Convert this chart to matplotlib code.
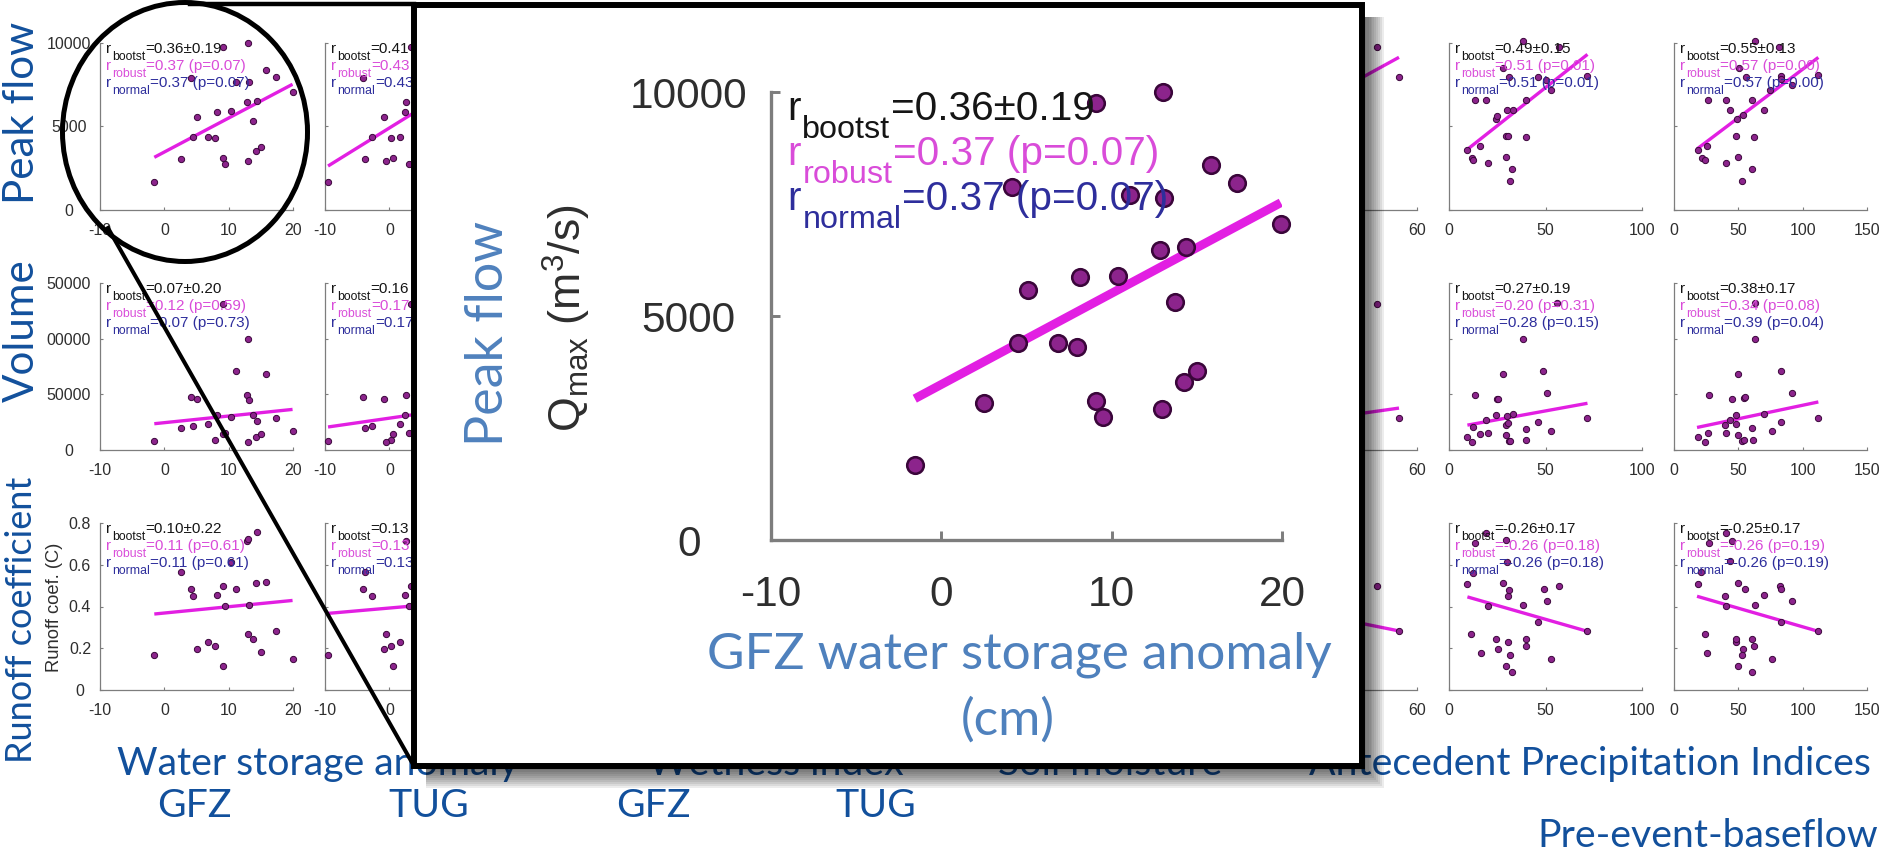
import numpy as np
import matplotlib
matplotlib.use("Agg")
import matplotlib.pyplot as plt
from matplotlib.patches import Ellipse, Rectangle
from matplotlib.lines import Line2D

plt.rcParams['font.family'] = ['Liberation Sans', 'DejaVu Sans']
plt.rcParams['mathtext.fontset'] = 'custom'
plt.rcParams['mathtext.rm'] = 'Liberation Sans'
plt.rcParams['mathtext.it'] = 'Liberation Sans:italic'
plt.rcParams['mathtext.bf'] = 'Liberation Sans:bold'

# ---------------- data (events) ----------------
nan = np.nan
gfz_x = [-1.56, 2.53, 4.14, 4.49, 5.09, 6.85, 7.94, 8.12, 9.06, 9.08, 9.47, 10.36,
         11.07, 12.85, 12.96, 13.03, 13.10, 13.74, 14.35, 14.24, 14.99, 15.84, 17.37, 19.93]
tug_x = [-9.53, -3.78, -4.04, -2.74, -0.82, 1.71, 0.21, 2.44, 3.32, 0.62, 3.06, nan,
         nan, 2.65, -0.51, nan, nan, nan, nan, nan, nan, nan, nan, nan]
col6_x = [nan, nan, nan, nan, nan, nan, nan, nan, 47.5, nan, nan, nan,
          nan, nan, nan, nan, nan, nan, nan, nan, nan, nan, 54.4, nan]
peak_flow = [1683, 3047, 7886, 4388, 5580, 4400, 4300, 5862, 9750, 3111, 2745, 5904,
             7690, 6478, 2927, 9996, 7636, 5319, 6532, 3534, 3772, 8373, 7962, 7053]
volume = [7769, 20020, 47510, 21514, 45418, 23008, 8665, 31076, 131175, 14044, 14940, 29283,
          70817, 49004, 6873, 99801, 45119, 31375, 26295, 11653, 14343, 68426, 28984, 17331]
runoff_coef = [0.170, 0.563, 0.482, 0.449, 0.197, 0.231, 0.213, 0.456, 0.498, 0.116, 0.402, 0.612,
               0.485, 0.716, 0.270, 0.724, 0.409, 0.246, 0.756, 0.512, 0.180, 0.517, 0.282, 0.148]

c7_peak_x = [9.53, 11.96, 12.31, 13.69, 16.29, 19.06, 20.28, 24.61, 24.96, 27.73, 29.46, 30.33, 29.46,
             29.98, 31.02, 31.54, 32.41, 32.93, 38.13, 39.86, 39.86, 46.27, 50.09, 52.69, 57.02, 71.75]
c7_peak = [3594, 3112, 3012, 6566, 3855, 6606, 2791, 5422, 5643, 8494, 4458, 4458, 3193,
           6004, 7992, 1727, 2450, 5964, 10141, 6606, 4398, 7992, 7771, 7169, 9739, 8032]
c7_vol_x = [9.53, 11.96, 12.48, 13.69, 16.29, 19.06, 20.28, 24.61, 24.96, 25.48, 27.73, 29.46, 29.46,
            29.98, 30.33, 30.85, 31.54, 32.93, 38.13, 39.86, 39.86, 46.27, 48.87, 50.61, 52.69, 56.15, 71.75]
c7_vol = [11905, 7440, 20238, 49107, 14286, 26786, 15476, 31250, 45536, 46131, 68452, 13690, 22619,
          30357, 24107, 8333, 8333, 32143, 100000, 19048, 8929, 24702, 70833, 50893, 17262, 131845, 29167]
c7_rc_x = [9.53, 12.31, 13.69, 16.46, 19.06, 20.28, 11.44, 24.61, 25.30, 27.73, 29.29, 29.46, 29.98, 30.33,
           30.33, 31.20, 31.54, 32.41, 38.13, 39.86, 39.86, 46.27, 49.22, 50.61, 52.69, 57.02, 71.75]
c7_rc = [0.510, 0.560, 0.706, 0.178, 0.754, 0.402, 0.267, 0.246, 0.197, 0.513, 0.717, 0.116, 0.614, 0.230,
         0.449, 0.481, 0.170, 0.087, 0.406, 0.246, 0.210, 0.325, 0.483, 0.425, 0.148, 0.497, 0.281]

c8_peak_x = [18.65, 22.02, 23.83, 26.42, 25.90, 40.15, 40.67, 43.26, 47.93, 49.74, 48.70, 50.26, 55.70,
             53.63, 53.11, 60.88, 60.88, 61.92, 62.95, 69.95, 74.87, 81.61, 82.90, 83.42, 91.97, 112.18]
c8_peak = [3594, 3112, 2992, 6566, 3835, 6606, 2791, 5984, 4458, 3153, 5422, 8474, 7972,
           5663, 1727, 6566, 2450, 4398, 10141, 5964, 7209, 9739, 8012, 7831, 7510, 8072]
c8_vol_x = [18.65, 23.83, 26.16, 26.94, 39.37, 40.67, 43.26, 45.08, 47.93, 48.45, 49.74, 49.74, 53.11,
            54.40, 54.15, 55.44, 60.88, 61.66, 62.95, 69.95, 75.91, 82.90, 82.90, 91.97, 112.18, 62.69]
c8_vol = [11905, 7440, 14881, 49107, 22321, 15179, 27083, 45536, 31548, 23214, 68452, 13690, 8036,
          8929, 47024, 47917, 19345, 8929, 100000, 32143, 17262, 70833, 24702, 50893, 29167, 131845]
c8_rc_x = [18.65, 21.24, 23.83, 25.90, 26.94, 39.37, 40.15, 40.67, 43.26, 45.08, 47.93, 48.45, 49.74, 49.74,
           53.63, 53.11, 55.44, 60.88, 61.92, 60.88, 62.95, 69.95, 75.91, 82.13, 82.90, 82.90, 91.97, 112.18]
c8_rc = [0.510, 0.563, 0.267, 0.178, 0.706, 0.449, 0.754, 0.402, 0.616, 0.716, 0.230, 0.246, 0.116, 0.513,
         0.198, 0.170, 0.483, 0.246, 0.211, 0.087, 0.406, 0.456, 0.148, 0.497, 0.484, 0.325, 0.425, 0.281]

# fitted (robust) regression lines: [x_start, x_end], [y_start, y_end]
gfz_fit_x = [-1.56, 19.93]
gfz_peak_fit = [3154, 7529]
gfz_vol_fit = [23606, 36454]
gfz_rc_fit = [0.364, 0.429]
tug_fit_x = [-9.53, 15.0]
tug_peak_fit = [2633, 8495]
tug_vol_fit = [20675, 41060]
tug_rc_fit = [0.367, 0.433]
col6_fit_x = [10.0, 54.4]
col6_peak_fit = [4455, 9143]
col6_vol_fit = [19450, 37657]
col6_rc_fit = [0.421, 0.283]
c7_fit_x = [9.53, 71.75]
c7_peak_fit = [3630, 9317]
c7_vol_fit = [22342, 41964]
c7_rc_fit = [0.446, 0.281]
c8_fit_x = [17.9, 112.18]
c8_peak_fit = [3655, 9137]
c8_vol_fit = [20238, 43155]
c8_rc_fit = [0.449, 0.281]

# correlation annotations (bootstrap, robust, normal)
gfz_peak_stats = ["0.36±0.19", "0.37 (p=0.07)", "0.37 (p=0.07)"]
gfz_vol_stats = ["0.07±0.20", "0.12 (p=0.59)", "0.07 (p=0.73)"]
gfz_rc_stats = ["0.10±0.22", "0.11 (p=0.61)", "0.11 (p=0.61)"]
tug_peak_stats = ["0.41", "0.43", "0.43"]
tug_vol_stats = ["0.16", "0.17", "0.17"]
tug_rc_stats = ["0.13", "0.13", "0.13"]
c7_peak_stats = ["0.49±0.15", "0.51 (p=0.01)", "0.51 (p=0.01)"]
c7_vol_stats = ["0.27±0.19", "0.20 (p=0.31)", "0.28 (p=0.15)"]
c7_rc_stats = ["-0.26±0.17", "-0.26 (p=0.18)", "-0.26 (p=0.18)"]
c8_peak_stats = ["0.55±0.13", "0.57 (p=0.00)", "0.57 (p=0.00)"]
c8_vol_stats = ["0.38±0.17", "0.34 (p=0.08)", "0.39 (p=0.04)"]
c8_rc_stats = ["-0.25±0.17", "-0.26 (p=0.19)", "-0.26 (p=0.19)"]

peak_ticks = [0, 5000, 10000]
peak_ticklabels = ["0", "5000", "10000"]
vol_ticks = [0, 50000, 100000, 150000]
vol_ticklabels = ["0", "50000", "00000", "50000"]
rc_ticks = [0, 0.2, 0.4, 0.6, 0.8]
rc_ticklabels = ["0", "0.2", "0.4", "0.6", "0.8"]

row_names = ["Peak flow", "Volume", "Runoff coefficient"]
group_labels = ["Water storage anomaly", "Wetness index", "Soil moisture",
                "Antecedent Precipitation Indices"]
sub_labels = ["GFZ", "TUG", "GFZ", "TUG"]

# ---------------- style ----------------
W, H = 1883, 851
fig = plt.figure(figsize=(W / 100, H / 100), dpi=100)
renderer = fig.canvas.get_renderer()
AXC = "#7d7d7d"
TICKC = "#2e2e2e"
LINEC = "#e21fe2"
DOTF = "#8c248c"
DOTE = "#3a063a"
STATC = ["#151515", "#d94cd9", "#2e2e9c"]
DARKBLUE = "#12509c"
LIGHTBLUE = "#4f81bd"


def fxp(x):
    return x / W


def fyp(y):
    return 1 - y / H


def fit_size(t, target_px, vertical=False):
    bb = t.get_window_extent(renderer)
    cur = bb.height if vertical else bb.width
    t.set_fontsize(t.get_fontsize() * target_px / cur)
    return t.get_fontsize()


def stat_line(ax, x, b, name, val, color, fs):
    t1 = ax.text(x, b, "r", transform=ax.transAxes, fontsize=fs, color=color,
                 va="baseline", ha="left", zorder=5)
    t2 = ax.annotate(name, xy=(1, b), xycoords=(t1, "axes fraction"),
                     xytext=(0.05 * fs, -0.44 * fs), textcoords="offset points",
                     fontsize=0.8 * fs, color=color, va="baseline", ha="left", zorder=5)
    ax.annotate("=" + val, xy=(1, b), xycoords=(t2, "axes fraction"),
                xytext=(0.02 * fs, 0), textcoords="offset points",
                fontsize=fs, color=color, va="baseline", ha="left", zorder=5)


def draw_panel(px, py, pw, ph, xs, ys, fit_x, fit_y, stats, xlim, xticks,
               ylim, yticks, yticklabels, ylab_pad_px, s=1.0, zorder=0, show_y=False):
    ax = fig.add_axes([px / W, 1 - (py + ph) / H, pw / W, ph / H], zorder=zorder)
    ax.set_facecolor("none")
    for side in ("top", "right"):
        ax.spines[side].set_visible(False)
    for side in ("left", "bottom"):
        ax.spines[side].set_color(AXC)
        ax.spines[side].set_linewidth(0.9 * s)
    ax.plot(fit_x, fit_y, color=LINEC, lw=2.4 * s, solid_capstyle="butt", zorder=2)
    ax.plot(xs, ys, "o", ms=4.5 * s, mfc=DOTF, mec=DOTE, mew=0.7 * s,
            clip_on=False, zorder=3)
    ax.set_xlim(xlim)
    ax.set_ylim(ylim)
    ax.set_xticks(xticks)
    ax.set_xticklabels([f"{t:g}" for t in xticks])
    ax.set_yticks(yticks)
    ax.set_yticklabels(yticklabels if show_y else [])
    ax.tick_params(direction="in", length=2.5 * s, width=0.8 * s, color=AXC,
                   labelcolor=TICKC, labelsize=11.5 * s)
    ax.tick_params(axis="x", pad=9.5 * s)
    ax.tick_params(axis="y", pad=ylab_pad_px * 0.72 * s)
    for t in ax.get_yticklabels():
        t.set_horizontalalignment("center")
    names = ["bootst", "robust", "normal"]
    for nm, val, c, b in zip(names, stats, STATC, [0.938, 0.837, 0.737]):
        stat_line(ax, 0.031, b, nm, val, c, 11 * s)
    return ax


cols_left = [100, 325, 550, 775, 999, 1224, 1449, 1674]
rows_top = [43, 283, 523]
PW, PH = 193, 167

row_specs = [
    ((0, 10000), peak_ticks, peak_ticklabels, 31),
    ((0, 150000), vol_ticks, vol_ticklabels, 31),
    ((0, 0.8), rc_ticks, rc_ticklabels, 20),
]
event_rows = [peak_flow, volume, runoff_coef]

columns = [
    (0, gfz_x, gfz_fit_x, [gfz_peak_fit, gfz_vol_fit, gfz_rc_fit],
     [gfz_peak_stats, gfz_vol_stats, gfz_rc_stats], (-10, 20), [-10, 0, 10, 20]),
    (1, tug_x, tug_fit_x, [tug_peak_fit, tug_vol_fit, tug_rc_fit],
     [tug_peak_stats, tug_vol_stats, tug_rc_stats], (-10, 20), [-10, 0, 10, 20]),
    (5, col6_x, col6_fit_x, [col6_peak_fit, col6_vol_fit, col6_rc_fit],
     [[], [], []], (0, 60), [0, 20, 40, 60]),
]
for ci, xs, fitx, fits, stats, xlim, xticks in columns:
    for ri in range(3):
        ylim, yt, ytl, pad = row_specs[ri]
        draw_panel(cols_left[ci], rows_top[ri], PW, PH, xs, event_rows[ri],
                   fitx, fits[ri], stats[ri], xlim, xticks,
                   ylim, yt, ytl, pad, show_y=(ci == 0))

per_panel = [
    (6, [(c7_peak_x, c7_peak, c7_peak_fit, c7_peak_stats),
         (c7_vol_x, c7_vol, c7_vol_fit, c7_vol_stats),
         (c7_rc_x, c7_rc, c7_rc_fit, c7_rc_stats)], c7_fit_x, (0, 100), [0, 50, 100]),
    (7, [(c8_peak_x, c8_peak, c8_peak_fit, c8_peak_stats),
         (c8_vol_x, c8_vol, c8_vol_fit, c8_vol_stats),
         (c8_rc_x, c8_rc, c8_rc_fit, c8_rc_stats)], c8_fit_x, (0, 150), [0, 50, 100, 150]),
]
for ci, rows, fitx, xlim, xticks in per_panel:
    for ri, (xs, ys, fy_, st) in enumerate(rows):
        ylim, yt, ytl, pad = row_specs[ri]
        draw_panel(cols_left[ci], rows_top[ri], PW, PH, xs, ys, fitx, fy_, st,
                   xlim, xticks, ylim, yt, ytl, pad, show_y=False)

# y label of bottom-left panel
t = fig.text(fxp(55), fyp(607), "Runoff coef. (C)", rotation=90, ha="center", va="center",
             fontsize=12.5, color=TICKC)
fit_size(t, 130, vertical=True)

# row labels
row_texts = []
for name, yc in zip(row_names, [113, 331, 620]):
    row_texts.append(fig.text(fxp(22), fyp(yc), name, rotation=90, ha="center",
                              va="center", fontsize=30, color=DARKBLUE, family="Lato"))
fs_row = fit_size(row_texts[0], 182, vertical=True)
row_texts[1].set_fontsize(fs_row)
fit_size(row_texts[2], 287, vertical=True)

# bottom group labels (partly hidden under the zoom box)
bottom_texts = [
    fig.text(fxp(318), fyp(775), group_labels[0], ha="center", va="baseline"),
    fig.text(fxp(776), fyp(775), group_labels[1], ha="center", va="baseline"),
    fig.text(fxp(1110), fyp(775), group_labels[2], ha="center", va="baseline"),
    fig.text(fxp(1871), fyp(775), group_labels[3], ha="right", va="baseline"),
]
for lab, xc in zip(sub_labels, [194, 429, 653, 876]):
    bottom_texts.append(fig.text(fxp(xc), fyp(817), lab, ha="center", va="baseline"))
bottom_texts.append(fig.text(fxp(1878), fyp(847), "Pre-event-baseflow", ha="right",
                             va="baseline"))
for t in bottom_texts:
    t.set_fontsize(27)
    t.set_color(DARKBLUE)
    t.set_family("Lato")
    t.set_zorder(1)
fs_bot = fit_size(bottom_texts[0], 403)
for t in bottom_texts[1:]:
    t.set_fontsize(fs_bot)

# ---------------- zoom box with shadow ----------------
bx0, by0, bx1, by1 = 414, 5, 1362.5, 766
for e in range(2, 24, 2):
    fig.add_artist(Rectangle((fxp(bx0 + 12), fyp(by1 + e)), (bx1 + e - bx0 - 12) / W,
                             (by1 + e - by0 - 12) / H, transform=fig.transFigure,
                             facecolor="black", edgecolor="none", alpha=0.075, zorder=2))
fig.add_artist(Rectangle((fxp(bx0), fyp(by1)), (bx1 - bx0) / W, (by1 - by0) / H,
                         transform=fig.transFigure, facecolor="white", edgecolor="black",
                         lw=4.3, joinstyle="miter", zorder=3))

# inset: enlarged copy of the first panel
S = 2.65
draw_panel(771, 92, 511, 448, gfz_x, peak_flow, gfz_fit_x, gfz_peak_fit, gfz_peak_stats,
           (-10, 20), [-10, 0, 10, 20], (0, 10000), peak_ticks, peak_ticklabels, 31,
           s=S, zorder=4, show_y=True)
t = fig.text(fxp(567), fyp(318), r"Q$_{\mathrm{max}}$ (m$^{3}$/s)", rotation=90,
             ha="center", va="center", fontsize=33, color=TICKC, zorder=5)
fit_size(t, 228, vertical=True)
t = fig.text(fxp(489), fyp(333), "Peak flow", rotation=90, ha="center", va="center",
             fontsize=37, color=LIGHTBLUE, family="Lato", zorder=5)
fit_size(t, 225, vertical=True)
t1 = fig.text(fxp(1019), fyp(669), "GFZ water storage anomaly", ha="center", va="baseline",
              fontsize=35, color=LIGHTBLUE, family="Lato", zorder=5)
fs_in = fit_size(t1, 624)
fig.text(fxp(1008), fyp(735), "(cm)", ha="center", va="baseline",
         fontsize=fs_in, color=LIGHTBLUE, family="Lato", zorder=5)

# circle around the first panel and connector lines
fig.add_artist(Ellipse((fxp(185), fyp(132)), 245 / W, 259 / H, transform=fig.transFigure,
                       fill=False, edgecolor="black", lw=3.6, zorder=6))
fig.add_artist(Line2D([fxp(190), fxp(414)], [fyp(4), fyp(4)], transform=fig.transFigure,
                      color="black", lw=3.2, zorder=6))
fig.add_artist(Line2D([fxp(108), fxp(414)], [fyp(228), fyp(766)], transform=fig.transFigure,
                      color="black", lw=2.9, zorder=6))

fig.savefig("out.png", dpi=100)
